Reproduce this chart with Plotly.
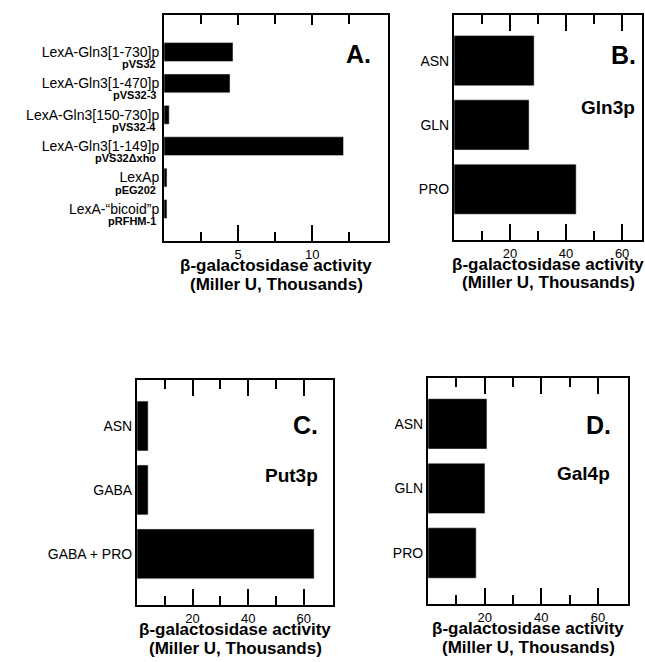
import plotly.graph_objects as go

W, H = 645, 662

# ---- data ----
a_labels = ["LexA-Gln3[1-730]p", "LexA-Gln3[1-470]p", "LexA-Gln3[150-730]p",
            "LexA-Gln3[1-149]p", "LexAp", "LexA-\u201cbicoid\u201dp"]
a_plasmids = ["pVS32", "pVS32-3", "pVS32-4", "pVS32\u0394xho", "pEG202", "pRFHM-1"]
a_values = [4.65, 4.45, 0.35, 12.1, 0.2, 0.2]

b_labels = ["ASN", "GLN", "PRO"]
b_values = [28.6, 26.8, 43.6]

c_labels = ["ASN", "GABA", "GABA + PRO"]
c_values = [4.0, 4.0, 63.7]

d_labels = ["ASN", "GLN", "PRO"]
d_values = [20.8, 20.1, 17.0]

panel_letters = ["A.", "B.", "C.", "D."]
panel_proteins = ["", "Gln3p", "Put3p", "Gal4p"]
x_title_1 = "\u03b2-galactosidase activity"
x_title_2 = "(Miller U, Thousands)"

major_ticks = [[5, 10], [20, 40, 60], [20, 40, 60], [20, 40, 60]]
minor_ticks = [[2.5, 7.5, 12.5], [10, 30, 50], [10, 30, 50], [10, 30, 50]]

FONT = "Liberation Sans, Arial, Helvetica, sans-serif"

def px_x(p):
    return p / W

def px_y(p):
    return 1 - p / H

# panel boxes in pixels: (x0, x1, y0, y1)
boxes = [(164, 388, 15, 241), (454, 642, 15, 240), (137, 333, 380, 605), (428, 628, 378, 604)]
xranges = [[0, 15.1], [0, 67.1], [0, 70.5], [0, 70.6]]
yranges = [[6.02, -1.18], [2.79, -0.71], [2.8, -0.72], [2.79, -0.71]]
top_major_len = [10, 16, 16, 16]
widths = [0.6, 0.78, 0.78, 0.78]
cats = [a_labels, b_labels, c_labels, d_labels]
vals = [a_values, b_values, c_values, d_values]

fig = go.Figure()
layout = dict(width=W, height=H, margin=dict(l=0, r=0, t=0, b=0),
              paper_bgcolor="white", plot_bgcolor="white", showlegend=False)
annotations = []

for i in range(4):
    sfx = "" if i == 0 else str(i + 1)
    osfx = str(i + 5)
    x0, x1, y0, y1 = boxes[i]
    fig.add_trace(go.Bar(
        x=vals[i], y=list(range(len(cats[i]))), orientation="h",
        width=widths[i], marker=dict(color="black"),
        xaxis="x" + sfx, yaxis="y" + sfx))
    # empty helper trace so the overlaying bottom-tick axis is drawn
    fig.add_trace(go.Scatter(x=[None], y=[None], mode="markers",
                             xaxis="x" + osfx, yaxis="y" + sfx))
    layout["xaxis" + sfx] = dict(
        domain=[px_x(x0), px_x(x1)], anchor="y" + sfx, range=xranges[i],
        showline=True, linewidth=2, linecolor="black",
        mirror="ticks", ticks="inside", ticklen=top_major_len[i], tickwidth=1.5,
        tickcolor="black",
        tickmode="array", tickvals=major_ticks[i],
        ticktext=[str(v) for v in major_ticks[i]],
        tickfont=dict(size=13, family=FONT, color="black"),
        minor=dict(ticks="inside", ticklen=9, tickwidth=1.5, tickcolor="black",
                   tickmode="array", tickvals=minor_ticks[i]))
    # long bottom major ticks on an overlaying axis
    layout["xaxis" + osfx] = dict(
        overlaying="x" + sfx, side="bottom", anchor="y" + sfx, range=xranges[i],
        ticks="inside", ticklen=16, tickwidth=1.5, tickcolor="black",
        tickmode="array", tickvals=major_ticks[i], showticklabels=False)
    layout["yaxis" + sfx] = dict(
        domain=[px_y(y1), px_y(y0)], anchor="x" + sfx, range=yranges[i],
        showline=True, linewidth=2, linecolor="black", mirror=True,
        tickmode="array", tickvals=list(range(len(cats[i]))), ticktext=cats[i],
        tickfont=dict(size=14, family=FONT, color="black"))
    # x axis title, two lines
    for txt, dy in [(x_title_1, 24), (x_title_2, 43)]:
        annotations.append(dict(
            text="<b>" + txt + "</b>", xref="paper", yref="paper",
            x=px_x((x0 + x1) / 2), y=px_y(y1 + dy), xanchor="center", yanchor="middle",
            showarrow=False, align="center",
            font=dict(size=17, family=FONT, color="black")))

# panel letters and protein names (right aligned inside the boxes)
letter_pos = [(373, 54), (638, 55), (320, 425), (613, 425)]
protein_pos = [None, (637, 108), (320, 475), (612, 473)]
for i in range(4):
    lx, ly = letter_pos[i]
    annotations.append(dict(
        text="<b>" + panel_letters[i] + "</b>", xref="paper", yref="paper",
        x=px_x(lx), y=px_y(ly), xanchor="right", yanchor="middle", showarrow=False,
        font=dict(size=25, family=FONT, color="black")))
    if protein_pos[i]:
        px, py = protein_pos[i]
        annotations.append(dict(
            text="<b>" + panel_proteins[i] + "</b>", xref="paper", yref="paper",
            x=px_x(px), y=px_y(py), xanchor="right", yanchor="middle", showarrow=False,
            font=dict(size=19, family=FONT, color="black")))

# plasmid names under panel A labels
for j, p in enumerate(a_plasmids):
    annotations.append(dict(
        text="<b>" + p + "</b>", xref="paper", yref="y",
        x=px_x(158), y=j, yshift=-12, xanchor="right", yanchor="middle",
        showarrow=False, font=dict(size=11, family=FONT, color="black")))

layout["annotations"] = annotations
fig.update_layout(**layout)
fig.write_html("out.html")
